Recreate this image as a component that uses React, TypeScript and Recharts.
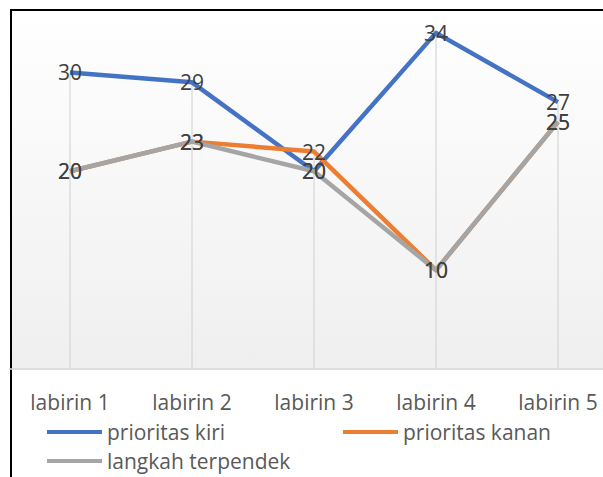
import React from 'react';
import { LineChart, Line, XAxis, YAxis, ReferenceLine, LabelList } from 'recharts';

const categories = ['labirin 1', 'labirin 2', 'labirin 3', 'labirin 4', 'labirin 5'];
const prioritasKiri = [30, 29, 20, 34, 27];
const prioritasKanan = [20, 23, 22, 10, 25];
const langkahTerpendek = [20, 23, 20, 10, 25];
const seriesKeys = ['kiri', 'kanan', 'terpendek'];
const seriesNames = ['prioritas kiri', 'prioritas kanan', 'langkah terpendek'];
const seriesColors = ['#4472C4', '#ED7D31', '#A5A5A5'];

const data = categories.map((name, i) => ({
  name,
  kiri: prioritasKiri[i],
  kanan: prioritasKanan[i],
  terpendek: langkahTerpendek[i],
}));

const dropMax = categories.map((_, i) =>
  Math.max(prioritasKiri[i], prioritasKanan[i], langkahTerpendek[i])
);

const FONT = '"Open Sans", "Noto Sans", sans-serif';

const renderLabel = (props: any) => (
  <text
    x={props.x}
    y={props.y}
    textAnchor="middle"
    dominantBaseline="central"
    fill="#404040"
    fontSize={21}
    fontFamily={FONT}
  >
    {props.value}
  </text>
);

const Tick = (props: any) => (
  <text
    x={props.x}
    y={props.y + 33}
    textAnchor="middle"
    dominantBaseline="central"
    fill="#595959"
    fontSize={21}
    fontFamily={FONT}
  >
    {props.payload.value}
  </text>
);

export default function App() {
  const legendRows = [
    [0, 1],
    [2],
  ];
  return (
    <div
      style={{
        position: 'absolute',
        left: 0,
        top: 0,
        width: 603,
        height: 477,
        overflow: 'hidden',
        background: '#fff',
      }}
    >
      <div
        style={{
          position: 'absolute',
          left: 12,
          top: 11,
          width: 620,
          height: 359,
          background: 'linear-gradient(#ffffff, #efefef)',
        }}
      />
      <div
        style={{
          position: 'absolute',
          left: 10,
          top: 9,
          width: 700,
          height: 600,
          borderLeft: '2px solid #000',
          borderTop: '2px solid #000',
        }}
      />
      <div style={{ position: 'absolute', left: 0, top: 0 }}>
        <LineChart
          width={620}
          height={477}
          data={data}
          margin={{ top: 23, right: 1, left: 9, bottom: 48 }}
        >
          <XAxis
            dataKey="name"
            height={60}
            tickLine={false}
            tickSize={0}
            tickMargin={0}
            padding={{ left: 61, right: 61 }}
            axisLine={{ stroke: '#d9d9d9', strokeWidth: 1.5 }}
            tick={<Tick />}
            interval={0}
          />
          <YAxis hide domain={[0, 35]} />
          {categories.map((c, i) => (
            <ReferenceLine
              key={c}
              segment={[
                { x: c, y: 0 },
                { x: c, y: dropMax[i] },
              ]}
              stroke="#d0d0d0"
              strokeWidth={1}
            />
          ))}
          {seriesKeys.map((k, i) => (
            <Line
              key={k}
              dataKey={k}
              name={seriesNames[i]}
              stroke={seriesColors[i]}
              strokeWidth={4.5}
              dot={false}
              isAnimationActive={false}
              strokeLinejoin="round"
            />
          ))}
          {seriesKeys.map((k) => (
            <Line
              key={k + '-lbl'}
              dataKey={k}
              stroke="none"
              dot={false}
              legendType="none"
              isAnimationActive={false}
            >
              <LabelList dataKey={k} content={renderLabel} />
            </Line>
          ))}
        </LineChart>
      </div>
      {legendRows.map((row, r) =>
        row.map((si, j) => (
          <div
            key={si}
            style={{
              position: 'absolute',
              left: j === 0 ? 47 : 343,
              top: r === 0 ? 432 - 15 : 461 - 15,
              height: 30,
              display: 'flex',
              alignItems: 'center',
              fontFamily: FONT,
              fontSize: 21,
              color: '#595959',
              whiteSpace: 'nowrap',
            }}
          >
            <div
              style={{
                width: 55,
                height: 4,
                background: seriesColors[si],
                marginRight: 5,
              }}
            />
            {seriesNames[si]}
          </div>
        ))
      )}
    </div>
  );
}
